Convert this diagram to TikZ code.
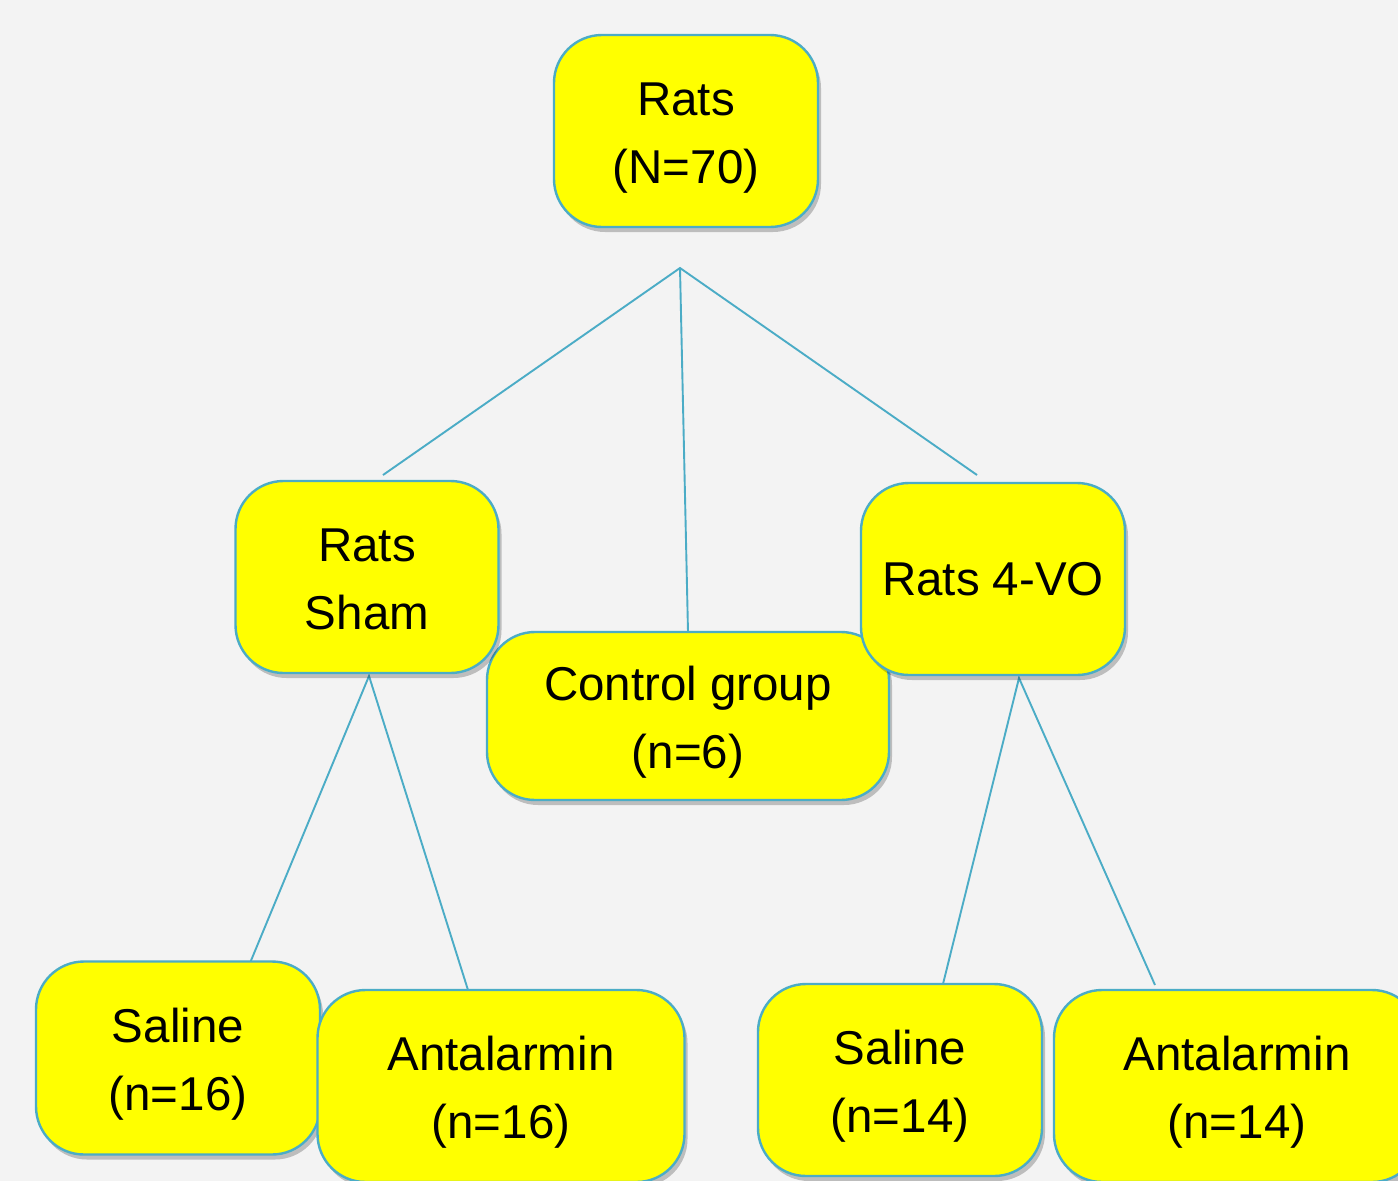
\documentclass[tikz,border=0pt]{standalone}
\usepackage{fontspec}
\setmainfont{Liberation Sans}
\usetikzlibrary{shadows}
\definecolor{bgc}{HTML}{F3F3F3}
\definecolor{edgec}{HTML}{4BACC6}
\definecolor{boxc}{HTML}{FFFF00}
\newcommand\twolines[2]{\rule{0pt}{46pt}#1\\#2\rule[-10pt]{0pt}{10pt}}
\begin{document}
\begin{tikzpicture}[x=1pt,y=-1pt,
  box/.style={draw=edgec, line width=2.4pt, fill=boxc, rounded corners=48pt,
    align=center, font=\fontsize{47.5}{68}\selectfont, inner sep=0pt,
    drop shadow={shadow xshift=3pt, shadow yshift=-5pt, fill=black, opacity=0.22}},
  link/.style={draw=edgec, line width=1.9pt}]
\clip (0,0) rectangle (1398,1181);
\fill[bgc] (0,0) rectangle (1398,1181);
% connector end points
\coordinate (apex) at (680,268);
\coordinate (shamtop) at (383,475);
\coordinate (votop) at (977,475);
\coordinate (ctrltop) at (688,632);
\coordinate (shamfoot) at (369,676);
\coordinate (salLtop) at (250,963);
\coordinate (antLtop) at (468,990);
\coordinate (vofoot) at (1019,678);
\coordinate (salRtop) at (942,988);
\coordinate (antRtop) at (1155,985);
% connectors
\draw[link] (shamtop) -- (apex) -- (votop);
\draw[link] (apex) -- (ctrltop);
\draw[link] (salLtop) -- (shamfoot) -- (antLtop);
\draw[link] (salRtop) -- (vofoot) -- (antRtop);
% boxes
\node[box, minimum width=264pt, minimum height=192pt] (rats) at (686,131) {\twolines{Rats}{(N=70)}};
\node[box, minimum width=402pt, minimum height=168pt] (ctrl) at (688,716) {\twolines{Control group}{(n=6)}};
\node[box, minimum width=263pt, minimum height=192pt] (sham) at (367,577) {\twolines{Rats}{Sham}};
\node[box, minimum width=264pt, minimum height=192pt] (vo) at (993,579) {Rats 4-VO};
\node[box, minimum width=284pt, minimum height=193pt] (salL) at (178,1058) {\twolines{Saline}{(n=16)}};
\node[box, minimum width=367pt, minimum height=192pt] (antL) at (501,1086) {\twolines{Antalarmin}{(n=16)}};
\node[box, minimum width=284pt, minimum height=192pt] (salR) at (900,1080) {\twolines{Saline}{(n=14)}};
\node[box, minimum width=366pt, minimum height=192pt] (antR) at (1237,1086) {\twolines{Antalarmin}{(n=14)}};
\end{tikzpicture}
\end{document}
